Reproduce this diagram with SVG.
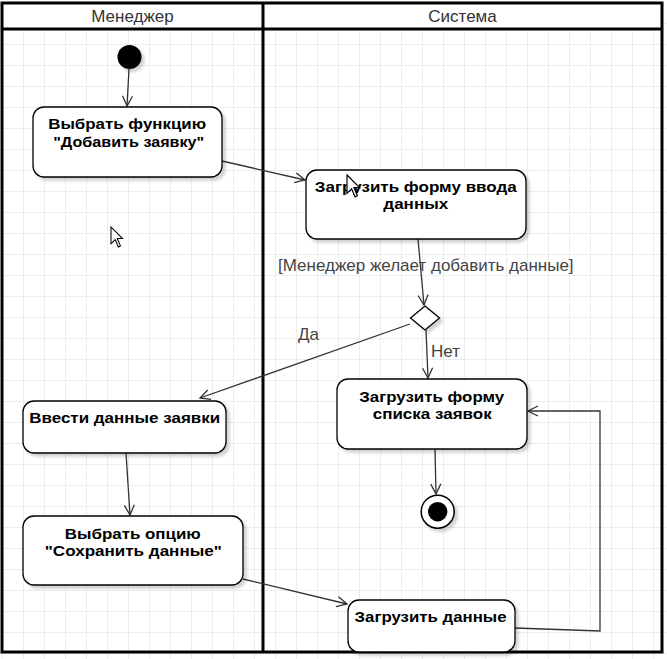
<svg xmlns="http://www.w3.org/2000/svg" width="667" height="659" viewBox="0 0 667 659">
  <defs>
    <pattern id="grid" patternUnits="userSpaceOnUse" x="2" y="2" width="21" height="21">
      <path d="M0 0.5 H21 M0.5 0 V21" fill="none" stroke="#ededed" stroke-width="1"/>
    </pattern>
    <filter id="sh" x="-10%" y="-10%" width="130%" height="140%">
      <feGaussianBlur in="SourceAlpha" stdDeviation="1.5"/>
      <feOffset dx="3" dy="3" result="o"/>
      <feFlood flood-color="#000" flood-opacity="0.18"/>
      <feComposite in2="o" operator="in"/>
      <feMerge><feMergeNode/><feMergeNode in="SourceGraphic"/></feMerge>
    </filter>
    <marker id="arr" markerUnits="userSpaceOnUse" markerWidth="14" markerHeight="14" viewBox="-12 -7 14 14" refX="0" refY="0" orient="auto">
      <path d="M-10,-5 L0,0 L-10,5" fill="none" stroke="#333" stroke-width="1.3"/>
    </marker>
    <path id="cursor" d="M0,0 L0,16 L4,12 L7,19 L9,18 L6,11 L11,11 Z"/>
  </defs>
  <style>
    .hdr{font-family:"Liberation Sans",Arial,sans-serif;font-size:17px;fill:#333;text-anchor:middle}
    .box{fill:#fff;stroke:#000;stroke-width:1.3;filter:url(#sh)}
    .t{font-family:"Liberation Sans",Arial,sans-serif;font-size:15.5px;font-weight:bold;fill:#000;text-anchor:middle}
    .edge{fill:none;stroke:#333;stroke-width:1.3;marker-end:url(#arr)}
    .lbl{font-family:"Liberation Sans",Arial,sans-serif;font-size:17px;fill:#444}
    .cur{fill:#fff;stroke:#000;stroke-width:1}
  </style>

  <!-- background grid -->
  <rect width="667" height="659" fill="#fff"/>
  <rect x="0" y="3" width="667" height="656" fill="url(#grid)"/>

  <!-- swimlane pool -->
  <g id="pool">
    <rect x="2" y="3" width="660" height="26" fill="#fff"/>
    <rect x="2" y="3" width="660" height="649" fill="none" stroke="#000" stroke-width="3"/>
    <line x1="2" y1="29" x2="662" y2="29" stroke="#000" stroke-width="3"/>
    <line x1="263" y1="3" x2="263" y2="652" stroke="#000" stroke-width="3"/>
    <text class="hdr" x="132.5" y="22">Менеджер</text>
    <text class="hdr" x="462.5" y="22">Система</text>
  </g>

  <!-- connectors -->
  <g id="connectors">
    <line class="edge" x1="129" y1="69" x2="127" y2="106"/>
    <line class="edge" x1="222" y1="161" x2="305" y2="180"/>
    <line class="edge" x1="418" y1="239" x2="424" y2="305"/>
    <line class="edge" x1="410" y1="324" x2="200" y2="398"/>
    <line class="edge" x1="426" y1="330" x2="428" y2="378"/>
    <line class="edge" x1="435" y1="449" x2="436" y2="494"/>
    <line class="edge" x1="126" y1="453" x2="130" y2="515"/>
    <line class="edge" x1="243" y1="579" x2="347" y2="604"/>
    <polyline class="edge" points="515,628 600,631 600,411 528,411"/>
    <text class="lbl" x="278" y="271">[Менеджер желает добавить данные]</text>
    <text class="lbl" x="298" y="340">Да</text>
    <text class="lbl" x="431" y="357">Нет</text>
  </g>

  <!-- nodes -->
  <g id="start">
    <circle cx="129.5" cy="57" r="12" fill="#000" filter="url(#sh)"/>
  </g>
  <g id="select-function">
    <rect class="box" x="33" y="107" width="189" height="70" rx="11"/>
    <text class="t" x="127.2" y="129" textLength="158" lengthAdjust="spacingAndGlyphs">Выбрать функцию</text>
    <text class="t" x="128.7" y="146.5" textLength="151" lengthAdjust="spacingAndGlyphs">"Добавить заявку"</text>
  </g>
  <g id="load-input-form">
    <rect class="box" x="306" y="170" width="220" height="69" rx="11"/>
    <text class="t" x="415.8" y="191.8" textLength="202" lengthAdjust="spacingAndGlyphs">Загрузить форму ввода</text>
    <text class="t" x="415.8" y="209.3" textLength="65" lengthAdjust="spacingAndGlyphs">данных</text>
  </g>
  <g id="decision">
    <polygon points="425,306 439.5,318 425,330 410.5,318" fill="#fff" stroke="#000" stroke-width="1.3" filter="url(#sh)"/>
  </g>
  <g id="enter-data">
    <rect class="box" x="23" y="401" width="203" height="52" rx="11"/>
    <text class="t" x="124.7" y="423" textLength="191" lengthAdjust="spacingAndGlyphs">Ввести данные заявки</text>
  </g>
  <g id="load-list-form">
    <rect class="box" x="337" y="379" width="190" height="70" rx="11"/>
    <text class="t" x="431.7" y="401.8" textLength="145" lengthAdjust="spacingAndGlyphs">Загрузить форму</text>
    <text class="t" x="432.2" y="419.3" textLength="119" lengthAdjust="spacingAndGlyphs">списка заявок</text>
  </g>
  <g id="final">
    <circle cx="437.7" cy="511.7" r="16.5" fill="#fff" stroke="#000" stroke-width="1.5" filter="url(#sh)"/>
    <circle cx="437.7" cy="511.7" r="9.7" fill="#000"/>
  </g>
  <g id="save-option">
    <rect class="box" x="23" y="516" width="220" height="69" rx="11"/>
    <text class="t" x="132.8" y="538.5" textLength="136" lengthAdjust="spacingAndGlyphs">Выбрать опцию</text>
    <text class="t" x="133.3" y="556" textLength="177" lengthAdjust="spacingAndGlyphs">"Сохранить данные"</text>
  </g>
  <g id="load-data">
    <rect class="box" x="348" y="600" width="167" height="52" rx="11"/>
    <text class="t" x="430.5" y="622.3" textLength="152" lengthAdjust="spacingAndGlyphs">Загрузить данные</text>
  </g>

  <!-- mouse pointers -->
  <use href="#cursor" class="cur" transform="translate(111,227) scale(1.05)"/>
  <use href="#cursor" class="cur" transform="translate(347,175) scale(1.15)"/>
</svg>
